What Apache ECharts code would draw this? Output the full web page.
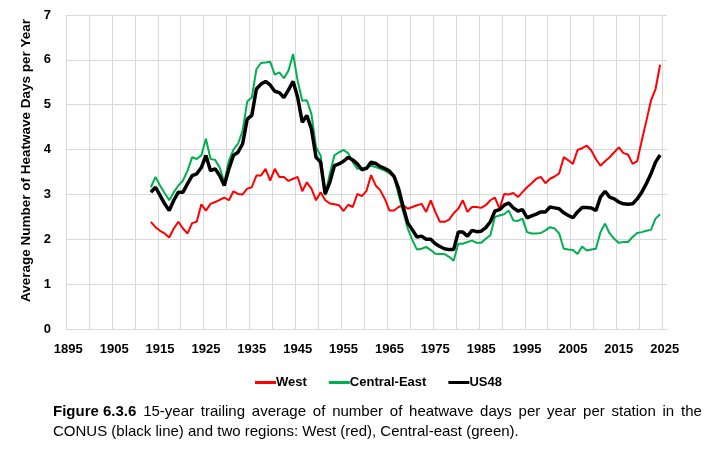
<!DOCTYPE html>
<html>
<head>
<meta charset="utf-8">
<script src="https://cdn.jsdelivr.net/npm/echarts@6/dist/echarts.min.js"></script>
<style>
html,body{margin:0;padding:0;background:#fff;}
#chart{width:712px;height:450px;}
</style>
</head>
<body>
<div id="chart"></div>
<script>
// ---- data ----
const axisStartYear = 1895;
const axisEndYear = 2025;
const dataStartYear = 1913;
const yTicks = [0, 1, 2, 3, 4, 5, 6, 7];
const seriesNames = ['West', 'Central-East', 'US48'];

const west = [
  2.39,2.27,2.19,2.13,2.04,2.24,2.39,2.24,2.13,2.36,
  2.39,2.78,2.64,2.79,2.83,2.88,2.93,2.87,3.07,3.01,
  3.00,3.13,3.16,3.42,3.42,3.57,3.31,3.57,3.39,3.39,
  3.30,3.35,3.39,3.07,3.27,3.13,2.87,3.05,2.87,2.80,
  2.78,2.76,2.63,2.77,2.72,3.01,2.96,3.08,3.43,3.20,
  3.09,2.90,2.64,2.64,2.72,2.76,2.68,2.72,2.76,2.79,
  2.61,2.87,2.61,2.39,2.39,2.44,2.58,2.68,2.87,2.61,
  2.72,2.72,2.70,2.76,2.87,2.93,2.68,3.01,3.00,3.03,
  2.94,3.05,3.16,3.25,3.35,3.39,3.25,3.35,3.40,3.47,
  3.83,3.76,3.68,3.99,4.03,4.09,3.98,3.79,3.64,3.74,
  3.83,3.94,4.05,3.92,3.89,3.68,3.74,4.20,4.64,5.09,
  5.35,5.89
];
const centralEast = [
  3.16,3.39,3.20,3.03,2.87,3.05,3.20,3.31,3.53,3.83,
  3.79,3.87,4.24,3.79,3.77,3.60,3.27,3.75,4.00,4.13,
  4.42,5.07,5.16,5.79,5.93,5.94,5.96,5.67,5.72,5.59,
  5.76,6.13,5.53,5.09,5.10,4.79,4.05,3.87,2.98,3.46,
  3.87,3.94,3.99,3.92,3.72,3.57,3.59,3.60,3.64,3.61,
  3.57,3.53,3.47,3.39,2.98,2.61,2.24,1.98,1.77,1.79,
  1.83,1.76,1.68,1.67,1.67,1.61,1.52,1.90,1.90,1.94,
  1.97,1.92,1.92,2.01,2.09,2.50,2.53,2.56,2.64,2.42,
  2.41,2.46,2.16,2.13,2.13,2.14,2.20,2.27,2.24,2.13,
  1.79,1.77,1.76,1.67,1.84,1.75,1.77,1.79,2.16,2.35,
  2.13,2.01,1.92,1.94,1.94,2.05,2.14,2.16,2.19,2.21,
  2.46,2.56
];
const us48 = [
  3.05,3.16,2.98,2.79,2.64,2.87,3.05,3.05,3.24,3.42,
  3.46,3.60,3.87,3.53,3.57,3.42,3.20,3.57,3.87,3.94,
  4.13,4.68,4.76,5.35,5.46,5.52,5.44,5.30,5.27,5.16,
  5.33,5.52,5.16,4.61,4.76,4.46,3.83,3.72,3.01,3.27,
  3.64,3.68,3.74,3.83,3.77,3.68,3.55,3.58,3.72,3.69,
  3.62,3.58,3.52,3.40,3.13,2.72,2.36,2.21,2.05,2.07,
  2.00,2.00,1.90,1.84,1.79,1.77,1.77,2.16,2.16,2.07,
  2.20,2.17,2.18,2.26,2.39,2.63,2.66,2.76,2.81,2.70,
  2.63,2.66,2.48,2.52,2.56,2.61,2.61,2.72,2.70,2.68,
  2.59,2.53,2.48,2.61,2.71,2.71,2.70,2.64,2.94,3.07,
  2.94,2.90,2.83,2.79,2.78,2.79,2.90,3.05,3.24,3.46,
  3.72,3.88
];

const captionBold = 'Figure 6.3.6';
const captionLine1 = '15-year trailing average of number of heatwave days per year per station in the';
const captionLine2 = 'CONUS (black line) and two regions: West (red), Central-east (green).';

// ---- build ----
const years = [];
for (let y = axisStartYear; y <= axisEndYear; y++) years.push(String(y));
const toPairs = arr => arr.map((v, i) => [String(dataStartYear + i), v]);

const chart = echarts.init(document.getElementById('chart'));
const FONT = 'Liberation Sans, Arial, sans-serif';
const CAP_SIZE = 15;

// justified first caption line: widen the spaces
const line1Rich = '{b|' + captionBold + '}{s| }' + captionLine1.split(' ').map(w => '{n|' + w + '}').join('{s| }');

chart.setOption({
  animation: false,
  backgroundColor: '#ffffff',
  grid: { left: 66, right: 45, top: 15, bottom: 121, containLabel: false },
  xAxis: {
    type: 'category',
    data: years,
    boundaryGap: true,
    axisLine: { show: true, lineStyle: { color: '#D9D9D9', width: 1 } },
    axisTick: { show: false },
    axisLabel: {
      interval: 9, margin: 14,
      color: '#000', fontWeight: 'bold', fontSize: 13, fontFamily: FONT
    },
    splitLine: { show: true, interval: 4, showMaxLine: false,
      lineStyle: { color: '#D9D9D9', width: 1 } }
  },
  yAxis: {
    type: 'value',
    min: yTicks[0], max: yTicks[yTicks.length - 1], interval: 1,
    name: 'Average Number of Heatwave Days per Year',
    nameLocation: 'middle', nameRotate: 90, nameGap: 30,
    nameTextStyle: { color: '#000', fontWeight: 'bold', fontSize: 13.5, fontFamily: FONT, padding: [0, 0, 0, 23] },
    axisLine: { show: false },
    axisTick: { show: false },
    axisLabel: { margin: 15, color: '#000', fontWeight: 'bold', fontSize: 13, fontFamily: FONT },
    splitLine: { show: true, lineStyle: { color: '#D9D9D9', width: 1 } }
  },
  legend: {
    data: seriesNames.map(n => ({ name: n, icon: 'rect' })),
    top: 371, left: 250,
    itemWidth: 21, itemHeight: 3, itemGap: 22,
    textStyle: { color: '#000', fontWeight: 'bold', fontSize: 13, fontFamily: FONT, padding: [0, 0, 0, -5] }
  },
  series: [
    { name: seriesNames[0], type: 'line', data: toPairs(west), showSymbol: false, symbol: 'none',
      lineStyle: { color: '#FF0000', width: 2 }, itemStyle: { color: '#FF0000' }, z: 2 },
    { name: seriesNames[1], type: 'line', data: toPairs(centralEast), showSymbol: false, symbol: 'none',
      lineStyle: { color: '#00B050', width: 2 }, itemStyle: { color: '#00B050' }, z: 3 },
    { name: seriesNames[2], type: 'line', data: toPairs(us48), showSymbol: false, symbol: 'none',
      lineStyle: { color: '#000000', width: 3.5 }, itemStyle: { color: '#000000' }, z: 4 }
  ],
  graphic: [
    { type: 'text', left: 53, top: 404,
      style: { text: line1Rich, fill: '#000', font: CAP_SIZE + 'px ' + FONT,
        rich: {
          b: { fontWeight: 'bold', fontSize: CAP_SIZE, fontFamily: FONT, fill: '#000' },
          n: { fontSize: CAP_SIZE, fontFamily: FONT, fill: '#000' },
          s: { fontSize: CAP_SIZE, fontFamily: FONT, width: 6.8 }
        } } },
    { type: 'text', left: 53, top: 424,
      style: { text: captionLine2, fill: '#000', font: CAP_SIZE + 'px ' + FONT } }
  ]
});
</script>
</body>
</html>
